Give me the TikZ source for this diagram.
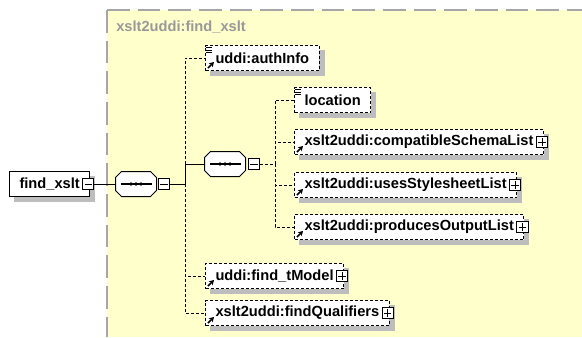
\documentclass[tikz,border=0pt]{standalone}
\usepackage{fontspec}
\setmainfont{Liberation Sans}
\usetikzlibrary{arrows,arrows.meta}
\pgfdeclarelayer{background}
\pgfsetlayers{background,main}
\definecolor{bgyellow}{HTML}{FFFFCC}
\definecolor{bordergray}{HTML}{A6A6A6}
\definecolor{titlegray}{HTML}{999999}
\definecolor{shadowgray}{HTML}{BDBDBD}
\newcommand{\boxshadow}[1]{%
  \begin{pgfonlayer}{background}
  \fill[shadowgray] ([shift={(5,5)}]#1.south west) rectangle ([shift={(5,5)}]#1.north east);
  \end{pgfonlayer}}
\newcommand{\seqoutline}[1]{%
  \begin{pgfonlayer}{background}
  \fill[shadowgray, shift={(5,5)}] ([shift={(6,0)}]#1.north west) -- ([shift={(-6,0)}]#1.north east)
    -- ([shift={(0,6)}]#1.north east) -- ([shift={(0,-6)}]#1.south east)
    -- ([shift={(-6,0)}]#1.south east) -- ([shift={(6,0)}]#1.south west)
    -- ([shift={(0,-6)}]#1.south west) -- ([shift={(0,6)}]#1.north west) -- cycle;
  \end{pgfonlayer}
  \draw[seqline, fill=white] ([shift={(6,0)}]#1.north west) -- ([shift={(-6,0)}]#1.north east)
    -- ([shift={(0,6)}]#1.north east) -- ([shift={(0,-6)}]#1.south east)
    -- ([shift={(-6,0)}]#1.south east) -- ([shift={(6,0)}]#1.south west)
    -- ([shift={(0,-6)}]#1.south west) -- ([shift={(0,6)}]#1.north west) -- cycle;
  \draw[seqline, line width=0.9pt] ([shift={(5,0)}]#1.west) -- ([shift={(-5,0)}]#1.east);
  \fill ([shift={(-5,0)}]#1.center) circle (1.8);
  \fill (#1.center) circle (1.8);
  \fill ([shift={(5,0)}]#1.center) circle (1.8);}
\tikzset{
  elem/.style={draw, fill=white, line width=0.75pt, minimum height=18.75pt,
    inner xsep=7.5pt, inner ysep=0pt, anchor=west,
    font=\fontsize{11}{13}\selectfont\bfseries},
  optelem/.style={elem, dash pattern=on 2.25pt off 1.5pt},
  seqbox/.style={minimum width=30.75pt, minimum height=18.75pt, inner sep=0pt, outer sep=0pt},
  seqline/.style={line width=0.75pt},
  pmsq/.style={draw, fill=white, line width=0.75pt, minimum size=8.5pt, inner sep=0pt},
  conn/.style={line width=0.75pt},
  optconn/.style={conn, dash pattern=on 2.25pt off 1.5pt},
  titlelabel/.style={anchor=west, inner sep=0pt, text=titlegray,
    font=\fontsize{11}{13}\selectfont\bfseries},
  docicon/.style={line width=0.75pt},
  refarrow/.style={line width=1.2pt, -{Stealth[length=3.6pt,width=4.2pt]}}
}
\begin{document}
\begin{tikzpicture}[x=0.75pt,y=-0.75pt]
\useasboundingbox (0,0) rectangle (582,337);

\begin{pgfonlayer}{background}
\fill[bgyellow] (107,10) rectangle (582,337);
\draw[bordergray, line width=1.1pt, dash pattern=on 17pt off 6pt] (107,10) -- (582,10);
\draw[bordergray, line width=1.1pt, dash pattern=on 17pt off 6pt] (107,10) -- (107,337);
\end{pgfonlayer}
\node[titlelabel] (title) at (116,27) {xslt2uddi:find\_xslt};

\node[elem] (find) at (9,184) {find\_xslt\hspace{3pt}};
\node[seqbox] (seq1) at (136,184) {};
\node[seqbox] (seq2) at (225,164) {};
\coordinate (j1) at (185,184);
\coordinate (j2) at (275,164);

\node[optelem] (authinfo) at (205,58) {uddi:authInfo};
\node[optelem] (location) at (294,100) {location};
\node[optelem] (compat) at (294,142) {xslt2uddi:compatibleSchemaList\hspace{3pt}};
\node[optelem] (uses) at (294,185) {xslt2uddi:usesStylesheetList\hspace{3pt}};
\node[optelem] (produces) at (294,227) {xslt2uddi:producesOutputList\hspace{3pt}};
\node[optelem] (tmodel) at (205,276) {uddi:find\_tModel\hspace{3pt}};
\node[optelem] (findq) at (205,313) {xslt2uddi:findQualifiers\hspace{3pt}};

\foreach \n in {find,authinfo,location,compat,uses,produces,tmodel,findq}
  \boxshadow{\n};
\seqoutline{seq1}
\seqoutline{seq2}

\node[pmsq] (findm) at ([xshift=-1.5pt]find.east) {};
\node[pmsq] (seq1m) at (164,184) {};
\node[pmsq] (seq2m) at (254,164) {};
\node[pmsq] (compatp) at ([xshift=-1.5pt]compat.east) {};
\node[pmsq] (usesp) at ([xshift=-1.5pt]uses.east) {};
\node[pmsq] (producesp) at ([xshift=-1.5pt]produces.east) {};
\node[pmsq] (tmodelp) at ([xshift=-1.5pt]tmodel.east) {};
\node[pmsq] (findqp) at ([xshift=-1.5pt]findq.east) {};

\foreach \n in {findm,seq1m,seq2m,compatp,usesp,producesp,tmodelp,findqp}
  \draw[conn] ([shift={(2.5,0)}]\n.west) -- ([shift={(-2.5,0)}]\n.east);
\foreach \n in {compatp,usesp,producesp,tmodelp,findqp}
  \draw[conn] ([shift={(0,2.5)}]\n.north) -- ([shift={(0,-2.5)}]\n.south);

\draw[conn] (findm) -- (seq1);
\draw[optconn] (j1) |- (authinfo.west);
\draw[optconn] (j1) |- (tmodel.west);
\draw[optconn] (j1) |- (findq.west);
\draw[conn] (seq1m) -- (j1);
\draw[conn] (j1) |- (seq2.west);

\draw[optconn] (seq2m) -- (j2);
\draw[optconn] (j2) |- (location.west);
\draw[optconn] (j2) |- (compat.west);
\draw[optconn] (j2) |- (uses.west);
\draw[optconn] (j2) |- (produces.west);

\foreach \n in {authinfo,location}
  \foreach \dy in {2.5,5,7.5}
    \draw[docicon] ([xshift=0.75pt]\n.north west) ++(0,\dy) -- ++(6,0);

\foreach \n in {authinfo,compat,uses,produces,tmodel,findq}
  \draw[refarrow] ([shift={(3,-3)}]\n.south west) -- ++(6,-6);
\end{tikzpicture}
\end{document}
